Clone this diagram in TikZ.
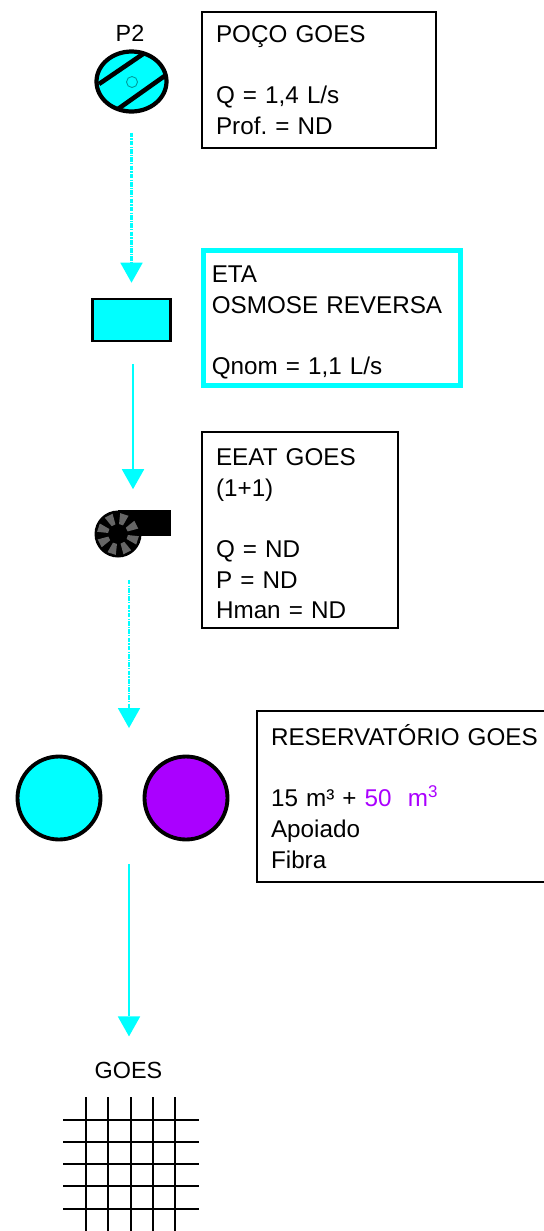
\documentclass[tikz,border=0pt]{standalone}
\usepackage{fontspec}
\setmainfont{Liberation Sans}
\usetikzlibrary{arrows.meta}
\usetikzlibrary{shapes.geometric}
\definecolor{agua}{HTML}{00FFFF}
\definecolor{roxo}{HTML}{AA00FF}
\newcommand{\fontecaixa}{\fontsize{13.8}{17.4}\selectfont\frenchspacing\spaceskip=0.22em\relax}
\tikzset{%
  caixa/.style={draw, line width=1.2pt, anchor=north west, align=left, inner xsep=0.28cm, inner ysep=-8pt,
    font=\fontecaixa},
  rotulo/.style={inner sep=0pt, font=\fontsize{13.3}{15}\selectfont},
  fluxo/.style={agua, line width=1.6pt, -{Triangle[width=0.45cm, length=0.4cm, line width=0pt]}},
  fluxoTrac/.style={fluxo, line width=1.5pt, dash pattern=on 2.6pt off 0.7pt on 0.7pt off 0.7pt},
  reserv/.style={circle, draw, line width=2.2pt, minimum size=1.66cm, inner sep=0pt},
}
\begin{document}
\begin{tikzpicture}[x=0.02cm, y=-0.02cm]
\useasboundingbox (0, 0) rectangle (544, 1231);

\node[rotulo] (P2-txt) at (130, 33) {P2};
\node[ellipse, draw, fill=agua, line width=2.4pt, minimum width=1.4cm, minimum height=1.2cm, inner sep=0pt] (P2) at (131.5, 81.5) {};
\draw[line width=2.6pt] (99, 84) -- (143, 54) (118, 109) -- (166, 75);
\draw[agua!60!black, line width=0.5pt] (132, 82) circle (5.5);
\node[caixa, text width=4.12cm, minimum height=2.72cm] (T-P2) at (201, 11) {POÇO GOES\\[17.4pt]Q = 1,4 L/s\\Prof. = ND};

\node[draw, fill=agua, line width=1.5pt, minimum width=1.56cm, minimum height=0.84cm, inner sep=0pt] (ETA) at (131.5, 320) {};
\node[caixa, draw=agua, line width=2.6pt, inner xsep=0.17cm, text width=4.8cm, minimum height=2.7cm] (T-ETA) at (201, 248) {\rule{0pt}{15pt}ETA\\OSMOSE REVERSA\\[17.4pt]Qnom = 1,1 L/s};

\node[minimum width=1.5cm, minimum height=0.96cm, inner sep=0pt] (EEAT) at (132.5, 533.5) {};
\fill (118, 509.5) rectangle (170.5, 536);
\fill (118, 534) circle (23.5);
\foreach \ang in {-72, -27, 18, 63, 108, 153, 198, 243}
  \fill[black!60] ([shift={(118, 534)}]\ang-12:21) -- ([shift={(118, 534)}]\ang+12:21)
    -- ([shift={(118, 534)}]\ang+12:10) -- ([shift={(118, 534)}]\ang-12:10) -- cycle;
\node[caixa, text width=3.36cm, minimum height=3.92cm] (T-EEAT) at (201, 431) {\rule{0pt}{14pt}EEAT GOES\\(1+1)\\[17.4pt]Q = ND\\P = ND\\Hman = ND};

\node[reserv, fill=agua] (R-1) at (59, 798) {};
\node[reserv, fill=roxo] (R-2) at (186, 798) {};
\node[caixa, text width=5.5cm, minimum height=3.42cm] (T-R) at (256, 710) {RESERVATÓRIO GOES\\[17.4pt]15 m³ + \textcolor{roxo}{50 ~m\textsuperscript{3}}\\Apoiado\\Fibra};

\node[rotulo] (GOES) at (128.5, 1070) {GOES};
\foreach \xx in {86, 108.3, 130.7, 152.7, 175}
  \draw[line width=1.1pt] (\xx, 1097) -- (\xx, 1231);
\foreach \yy in {1120, 1142.3, 1164.3, 1186.3, 1208.7}
  \draw[line width=1.1pt] (63, \yy) -- (199, \yy);

\coordinate (E-x) at (133, 0);
\coordinate (R-in) at (129, 728);
\coordinate (R-out) at (129, 864);

\draw[fluxoTrac, shorten <=0.38cm, shorten >=0.3cm] (P2) -- (ETA);
\draw[fluxo, shorten <=0.44cm, shorten >=0.4cm] (ETA.south -| E-x) -- (EEAT.north -| E-x);
\draw[fluxoTrac, shorten <=0.44cm] (EEAT.south -| R-in) -- (R-in);
\draw[fluxo, shorten >=0.5cm] (R-out) -- (GOES.north -| R-out);
\end{tikzpicture}
\end{document}
